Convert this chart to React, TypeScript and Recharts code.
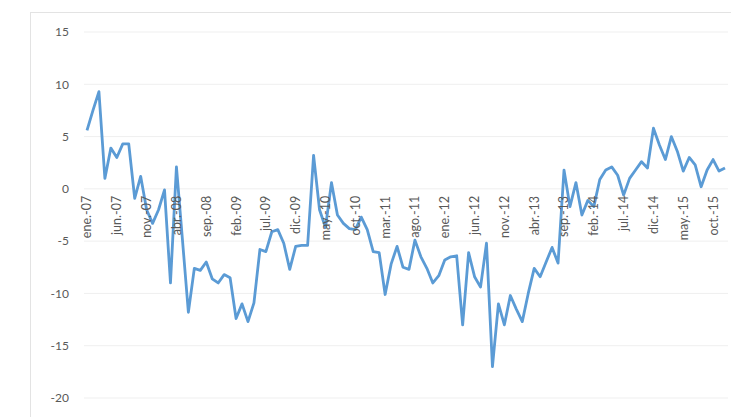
import { LineChart, Line, XAxis, YAxis, CartesianGrid } from "recharts";

// monthly series, ene-07 .. dic-15
const MONTHS = ["ene.", "feb.", "mar.", "abr.", "may.", "jun.", "jul.", "ago.", "sep.", "oct.", "nov.", "dic."];
const YEARS = ["07", "08", "09", "10", "11", "12", "13", "14", "15"];

const VALUES = [
  5.6, 7.5, 9.3, 1.0, 3.9, 3.0, 4.3, 4.3, -0.9, 1.2, -2.0, -3.3,
  -2.0, -0.1, -9.0, 2.1, -4.8, -11.8, -7.6, -7.8, -7.0, -8.6, -9.0, -8.2,
  -8.5, -12.4, -11.0, -12.7, -10.9, -5.8, -6.0, -4.1, -3.9, -5.2, -7.7, -5.5,
  -5.4, -5.4, 3.2, -2.0, -3.7, 0.6, -2.5, -3.3, -3.8, -3.9, -2.7, -3.9,
  -6.0, -6.1, -10.1, -7.2, -5.5, -7.5, -7.7, -4.9, -6.5, -7.6, -9.0, -8.3,
  -6.8, -6.5, -6.4, -13.0, -6.1, -8.4, -9.4, -5.2, -17.0, -11.0, -13.0, -10.2,
  -11.5, -12.7, -10.0, -7.6, -8.4, -7.0, -5.6, -7.1, 1.8, -1.7, 0.6, -2.5,
  -1.1, -1.7, 0.9, 1.8, 2.1, 1.3, -0.6, 1.0, 1.8, 2.6, 2.0, 5.8,
  4.2, 2.8, 5.0, 3.6, 1.7, 3.0, 2.3, 0.2, 1.8, 2.8, 1.7, 2.0,
];

const Y_TICKS = [-20, -15, -10, -5, 0, 5, 10, 15];

const LABELS = YEARS.flatMap((y) => MONTHS.map((m) => `${m}-${y}`));
const data = VALUES.map((v, i) => ({ month: LABELS[i], value: v }));

const W = 731;
const H = 417;
const TOP = 32;
const BOTTOM = 19;
const PLOT_H = H - TOP - BOTTOM;
// pixel row of the 0 line, where Excel puts the category labels
const ZERO_Y = TOP + PLOT_H * (15 / 35);
const FONT = "Lato, 'Open Sans', sans-serif";

const MonthTick = (props: any) => {
  const { x, payload } = props;
  const y = ZERO_Y + 7;
  return (
    <text
      x={x}
      y={y}
      transform={`rotate(-90 ${x} ${y})`}
      textAnchor="end"
      dominantBaseline="central"
      fontSize={12.5}
      fill="#595959"
      fontFamily={FONT}
    >
      {payload.value}
    </text>
  );
};

export default function App() {
  return (
    <div style={{ position: "absolute", left: 0, top: 0, width: W, height: H, background: "#fff", overflow: "hidden" }}>
      <div
        style={{
          position: "absolute",
          left: 30,
          top: 12,
          width: W,
          height: H,
          borderLeft: "1px solid #e3e3e3",
          borderTop: "1px solid #e3e3e3",
        }}
      />
      <LineChart width={W} height={H} data={data} margin={{ top: TOP, right: 3, left: 0, bottom: BOTTOM - 1 }}>
        <CartesianGrid stroke="#efefef" vertical={false} />
        <XAxis
          dataKey="month"
          interval={4}
          height={1}
          axisLine={false}
          tickLine={false}
          tick={(p: any) => <MonthTick {...p} />}
          padding={{ left: 3, right: 3 }}
        />
        <YAxis
          width={84}
          domain={[-20, 15]}
          ticks={Y_TICKS}
          axisLine={false}
          tickLine={false}
          tickMargin={9}
          tick={{ fontSize: 12, fill: "#595959", fontFamily: FONT }}
        />
        <Line
          type="linear"
          dataKey="value"
          stroke="#5B9BD5"
          strokeWidth={2.8}
          strokeLinejoin="round"
          dot={false}
          isAnimationActive={false}
        />
      </LineChart>
    </div>
  );
}
